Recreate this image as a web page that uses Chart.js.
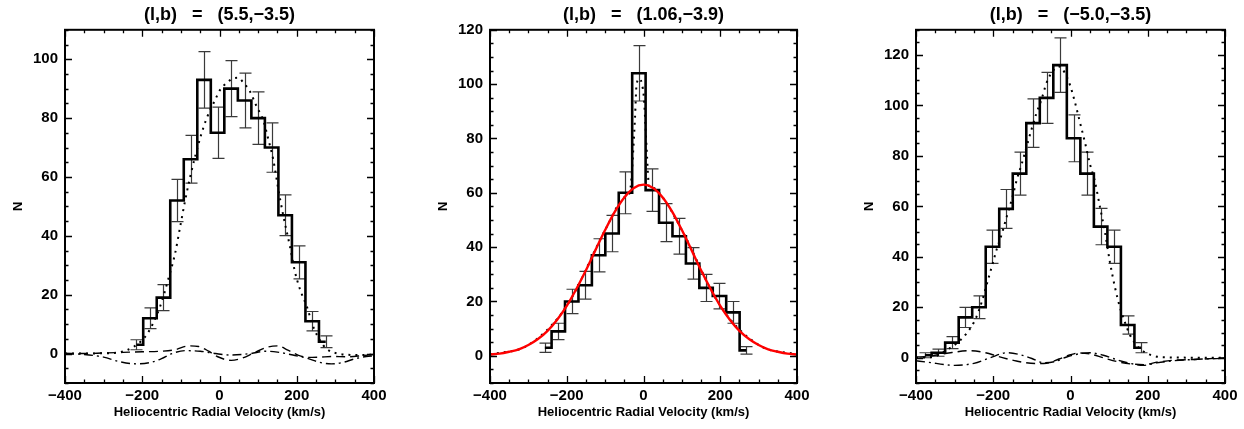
<!DOCTYPE html>
<html>
<head>
<meta charset="utf-8">
<script src="https://cdn.jsdelivr.net/npm/chart.js@4.4.0/dist/chart.umd.min.js"></script>
<style>
  body { margin: 0; background: #fff; }
  #wrap { position: relative; width: 1244px; height: 429px; overflow: hidden; }
  canvas { position: absolute; top: 0; }
</style>
</head>
<body>
<div id="wrap">
  <canvas id="p1" width="414" height="429" style="left:0px"></canvas>
  <canvas id="p2" width="414" height="429" style="left:414px"></canvas>
  <canvas id="p3" width="416" height="429" style="left:828px"></canvas>
</div>
<script>
// ---- panel 1: (l,b) = (5.5,-3.5) ----
const centers1 = [-215,-180,-145,-110,-75,-40,-5,30,65,100,135,170,205,240,275];
const counts1 = [3,12,19,52,66,93,75,90,86,80,70,47,31,11,4];
const errors1 = [1.7,3.5,4.4,7.2,8.1,9.6,8.7,9.5,9.3,8.9,8.4,6.9,5.6,3.3,2.0];
const modelVel1 = [-400,-300,-258,-220,-187,-154,-132,-115,-102,-89,-76,-63,-46,-33,-12,1,19,36,49,62,79,96,114,126,139,152,165,183,195,208,226,243,260,277,303,364,400];
const modelN1 = [0,0.1,0.5,2.5,6.7,15.9,25.6,34,43,52,60,67,75,80,86,89.5,92,93.5,93.7,92,89,84,79,73,66,56,47,36,28,22,16,9,4.5,1.6,0.1,-0.5,-0.3];
const dashVel1 = [-400,-350,-300,-250,-200,-150,-115,-80,-54,-28,-6,30,60,90,125,150,177,203,230,260,290,330,370,400];
const dashN1 = [0,0,0.2,0.4,0.6,0.8,1.3,2.6,2.4,0.8,-1.0,-2.3,-1.5,0.3,2.2,2.6,1.2,-0.5,-1.3,-1.2,-1.0,-1.1,-0.7,-0.3];
const dashDotVel1 = [-400,-350,-300,-260,-214,-175,-150,-123,-90,-50,-10,30,80,120,150,190,230,260,290,320,350,380,400];
const dashDotN1 = [0,-0.3,-1.2,-2.7,-3.5,-2.9,-1.7,0,1.0,0.8,0,-0.5,0,0.8,0.5,-0.5,-1.7,-3.0,-3.5,-3.0,-1.8,-1.0,-0.8];
const yTicks1 = [0,20,40,60,80,100];

// ---- panel 2: (l,b) = (1.06,-3.9) ----
const centers2 = [-257,-222,-187,-152,-117,-82,-47,-12,23,58,93,128,163,198,233,268];
const counts2 = [3,9,20,26,37,45,60,104,61,49,44,34,25,22,16,2];
const errors2 = [1.7,3,4.5,5.1,6.1,6.7,7.7,10.2,7.8,7,6.6,5.8,5,4.7,4,1.4];
const modelVel2 = [-400,-300,-200,-100,-50,-36,-31,-27,-22,-18,-10,-4,1,5,9,12,15,25,50,100,200,300,400];
const modelN2 = [0.5,4,18.4,46.3,58.3,60,66,75,88,100,102,100,95,85,74,66,62,61.8,58.3,46.3,18.4,4,0.5];
const gaussVel2 = [-400,-375,-350,-325,-300,-275,-250,-225,-200,-175,-150,-125,-100,-75,-50,-25,0,25,50,75,100,125,150,175,200,225,250,275,300,325,350,375,400];
const gaussN2 = [0.5,0.8,1.5,2.4,4,6.2,9.2,13.3,18.4,24.6,31.5,39,46.3,53,58.3,61.8,63,61.8,58.3,53,46.3,39,31.5,24.6,18.4,13.3,9.2,6.2,4,2.4,1.5,0.8,0.5];
const yTicks2 = [0,20,40,60,80,100,120];

// ---- panel 3: (l,b) = (-5.0,-3.5) ----
const centers3 = [-377,-342,-307,-272,-237,-202,-167,-132,-97,-62,-27,8,43,78,113,148,183];
const counts3 = [1,2,6,16,20,44,59,73,93,103,116,87,73,52,44,13,4];
const errors3 = [1,1.4,2.4,4,4.5,6.6,7.7,8.5,9.6,10.1,10.8,9.3,8.5,7.2,6.6,3.6,2];
const modelVel3 = [-400,-355,-321,-295,-269,-247,-230,-217,-204,-191,-178,-165,-152,-139,-126,-113,-101,-88,-75,-62,-44,-30,-15,-1,12,25,38,50,63,76,89,102,115,128,141,154,171,189,214,240,400];
const modelN3 = [0,0.4,3,5.7,9.7,15,22,29,36,43,49,56,62.7,70.6,77,84,90.5,97,102.4,109,114,115.5,113,108,101,93,85,77,70,60,50,38,28,20,14,9,5,2.5,0.8,0.2,0];
const dashVel3 = [-400,-372,-320,-260,-220,-186,-140,-91,-62,-30,0,21,50,85,120,160,190,223,266,330,400];
const dashN3 = [0.3,0.5,1.8,2.8,2.0,0.5,-1.3,-2.3,-2.2,-0.5,1.2,1.9,1.5,0,-1.5,-2.5,-2.7,-1.8,-1.0,-0.6,0];
const dashDotVel3 = [-400,-372,-300,-250,-208,-165,-130,-100,-70,-40,-10,20,50,85,120,154,189,223,266,330,400];
const dashDotN3 = [-1.2,-1.7,-3.0,-2.2,0,2.0,1.2,-0.3,-2.0,-1.5,0.3,1.5,2.0,1.0,-0.8,-2.2,-3.0,-2.0,-1.2,-0.6,-0.2];
const yTicks3 = [0,20,40,60,80,100,120];

const xTicks = [-400,-200,0,200,400];
const FONT = '"Liberation Sans", Arial, sans-serif';

function pts(xs, ys) {
  return xs.map((v, i) => ({ x: v, y: ys[i] }));
}

// IDL-like frame with inward ticks on all four sides
const frameTicks = {
  id: 'frameTicks',
  afterDraw(chart) {
    const { ctx, chartArea: a, scales: { x, y } } = chart;
    ctx.save();
    ctx.strokeStyle = '#000';
    ctx.lineWidth = 1.3;
    ctx.beginPath();
    for (let v = x.min; v <= x.max; v += 50) {
      const px = Math.round(x.getPixelForValue(v)) + 0.5;
      const len = v % 200 === 0 ? 7 : 3.5;
      ctx.moveTo(px, a.bottom); ctx.lineTo(px, a.bottom - len);
      ctx.moveTo(px, a.top); ctx.lineTo(px, a.top + len);
    }
    for (let v = Math.ceil(y.min / 5) * 5; v <= y.max; v += 5) {
      const py = Math.round(y.getPixelForValue(v)) + 0.5;
      const len = v % 20 === 0 ? 7 : 3.5;
      ctx.moveTo(a.left, py); ctx.lineTo(a.left + len, py);
      ctx.moveTo(a.right, py); ctx.lineTo(a.right - len, py);
    }
    ctx.stroke();
    ctx.lineWidth = 2;
    ctx.strokeRect(a.left, a.top, a.right - a.left, a.bottom - a.top);
    ctx.restore();
  }
};

// vertical error bars with caps, read from dataset.errors
const errorBars = {
  id: 'errorBars',
  beforeDatasetsDraw(chart) {
    const { ctx, scales: { x, y } } = chart;
    chart.data.datasets.forEach(ds => {
      if (!ds.errors) return;
      ctx.save();
      ctx.strokeStyle = '#3a3a3a';
      ctx.lineWidth = 1.2;
      ctx.beginPath();
      ds.data.forEach((p, i) => {
        const px = Math.round(x.getPixelForValue(p.x)) + 0.5;
        const top = y.getPixelForValue(p.y + ds.errors[i]);
        const bot = y.getPixelForValue(p.y - ds.errors[i]);
        ctx.moveTo(px, top); ctx.lineTo(px, bot);
        ctx.moveTo(px - 6, top); ctx.lineTo(px + 6, top);
        ctx.moveTo(px - 6, bot); ctx.lineTo(px + 6, bot);
      });
      ctx.stroke();
      ctx.restore();
    });
  }
};

function makePanel(id, title, yMax, yTicks, padLeft, padRight, datasets) {
  new Chart(document.getElementById(id), {
    type: 'line',
    data: { datasets: datasets },
    options: {
      responsive: false,
      animation: false,
      devicePixelRatio: 1,
      layout: { padding: { left: padLeft, right: padRight, top: 0, bottom: 0 } },
      plugins: {
        legend: { display: false },
        tooltip: { enabled: false },
        title: {
          display: true,
          fullSize: false,
          text: title,
          color: '#000',
          font: { family: FONT, size: 18, weight: 'bold', lineHeight: 1.1 },
          padding: { top: 5, bottom: 5 }
        }
      },
      elements: { point: { radius: 0 } },
      scales: {
        x: {
          type: 'linear',
          min: -400, max: 400,
          afterFit: s => { s.height = 46; },
          afterBuildTicks: s => { s.ticks = xTicks.map(v => ({ value: v })); },
          grid: { display: false, drawTicks: false },
          border: { display: false },
          ticks: {
            color: '#000', padding: 4, maxRotation: 0, autoSkip: false,
            font: { family: FONT, size: 15, weight: 'bold' },
            callback: v => (v < 0 ? '\u2212' + Math.abs(v) : String(v))
          },
          title: {
            display: true, text: 'Heliocentric Radial Velocity (km/s)', color: '#000',
            font: { family: FONT, size: 13, weight: 'bold' },
            padding: { top: 0, bottom: 9 }
          }
        },
        y: {
          min: -10, max: yMax,
          afterFit: s => { s.width = 55; },
          afterBuildTicks: s => { s.ticks = yTicks.map(v => ({ value: v })); },
          grid: { display: false, drawTicks: false },
          border: { display: false },
          ticks: {
            color: '#000', padding: 7, autoSkip: false,
            font: { family: FONT, size: 15, weight: 'bold' },
            callback: v => String(v)
          },
          title: {
            display: true, text: 'N', color: '#000',
            font: { family: FONT, size: 13, weight: 'bold' },
            padding: { top: 1, bottom: 0 }
          }
        }
      }
    },
    plugins: [errorBars, frameTicks]
  });
}

function histSet(c, n, e) {
  return {
    data: pts(c, n), errors: e, stepped: 'middle',
    borderColor: '#000', borderWidth: 2.6, fill: false, order: 1
  };
}
function curveSet(xs, ys, dash, width, color, order) {
  return {
    data: pts(xs, ys), borderColor: color, borderWidth: width, borderDash: dash,
    borderCapStyle: 'butt', cubicInterpolationMode: 'monotone', fill: false, order: order
  };
}

makePanel('p1', '(l,b)   =   (5.5,\u22123.5)', 110, yTicks1, 10, 40, [
  histSet(centers1, counts1, errors1),
  curveSet(modelVel1, modelN1, [2, 5], 2, '#000', 2),
  curveSet(dashVel1, dashN1, [9, 5], 1.4, '#000', 3),
  curveSet(dashDotVel1, dashDotN1, [9, 4, 2, 4], 1.4, '#000', 3)
]);

makePanel('p2', '(l,b)   =   (1.06,\u22123.9)', 120, yTicks2, 21, 31, [
  curveSet(gaussVel2, gaussN2, [], 2.4, '#ff0000', 0),
  histSet(centers2, counts2, errors2),
  curveSet(modelVel2, modelN2, [2, 5], 2, '#000', 2)
]);

makePanel('p3', '(l,b)   =   (\u22125.0,\u22123.5)', 130, yTicks3, 33, 19, [
  histSet(centers3, counts3, errors3),
  curveSet(modelVel3, modelN3, [2, 5], 2, '#000', 2),
  curveSet(dashVel3, dashN3, [9, 5], 1.4, '#000', 3),
  curveSet(dashDotVel3, dashDotN3, [9, 4, 2, 4], 1.4, '#000', 3)
]);
</script>
</body>
</html>
